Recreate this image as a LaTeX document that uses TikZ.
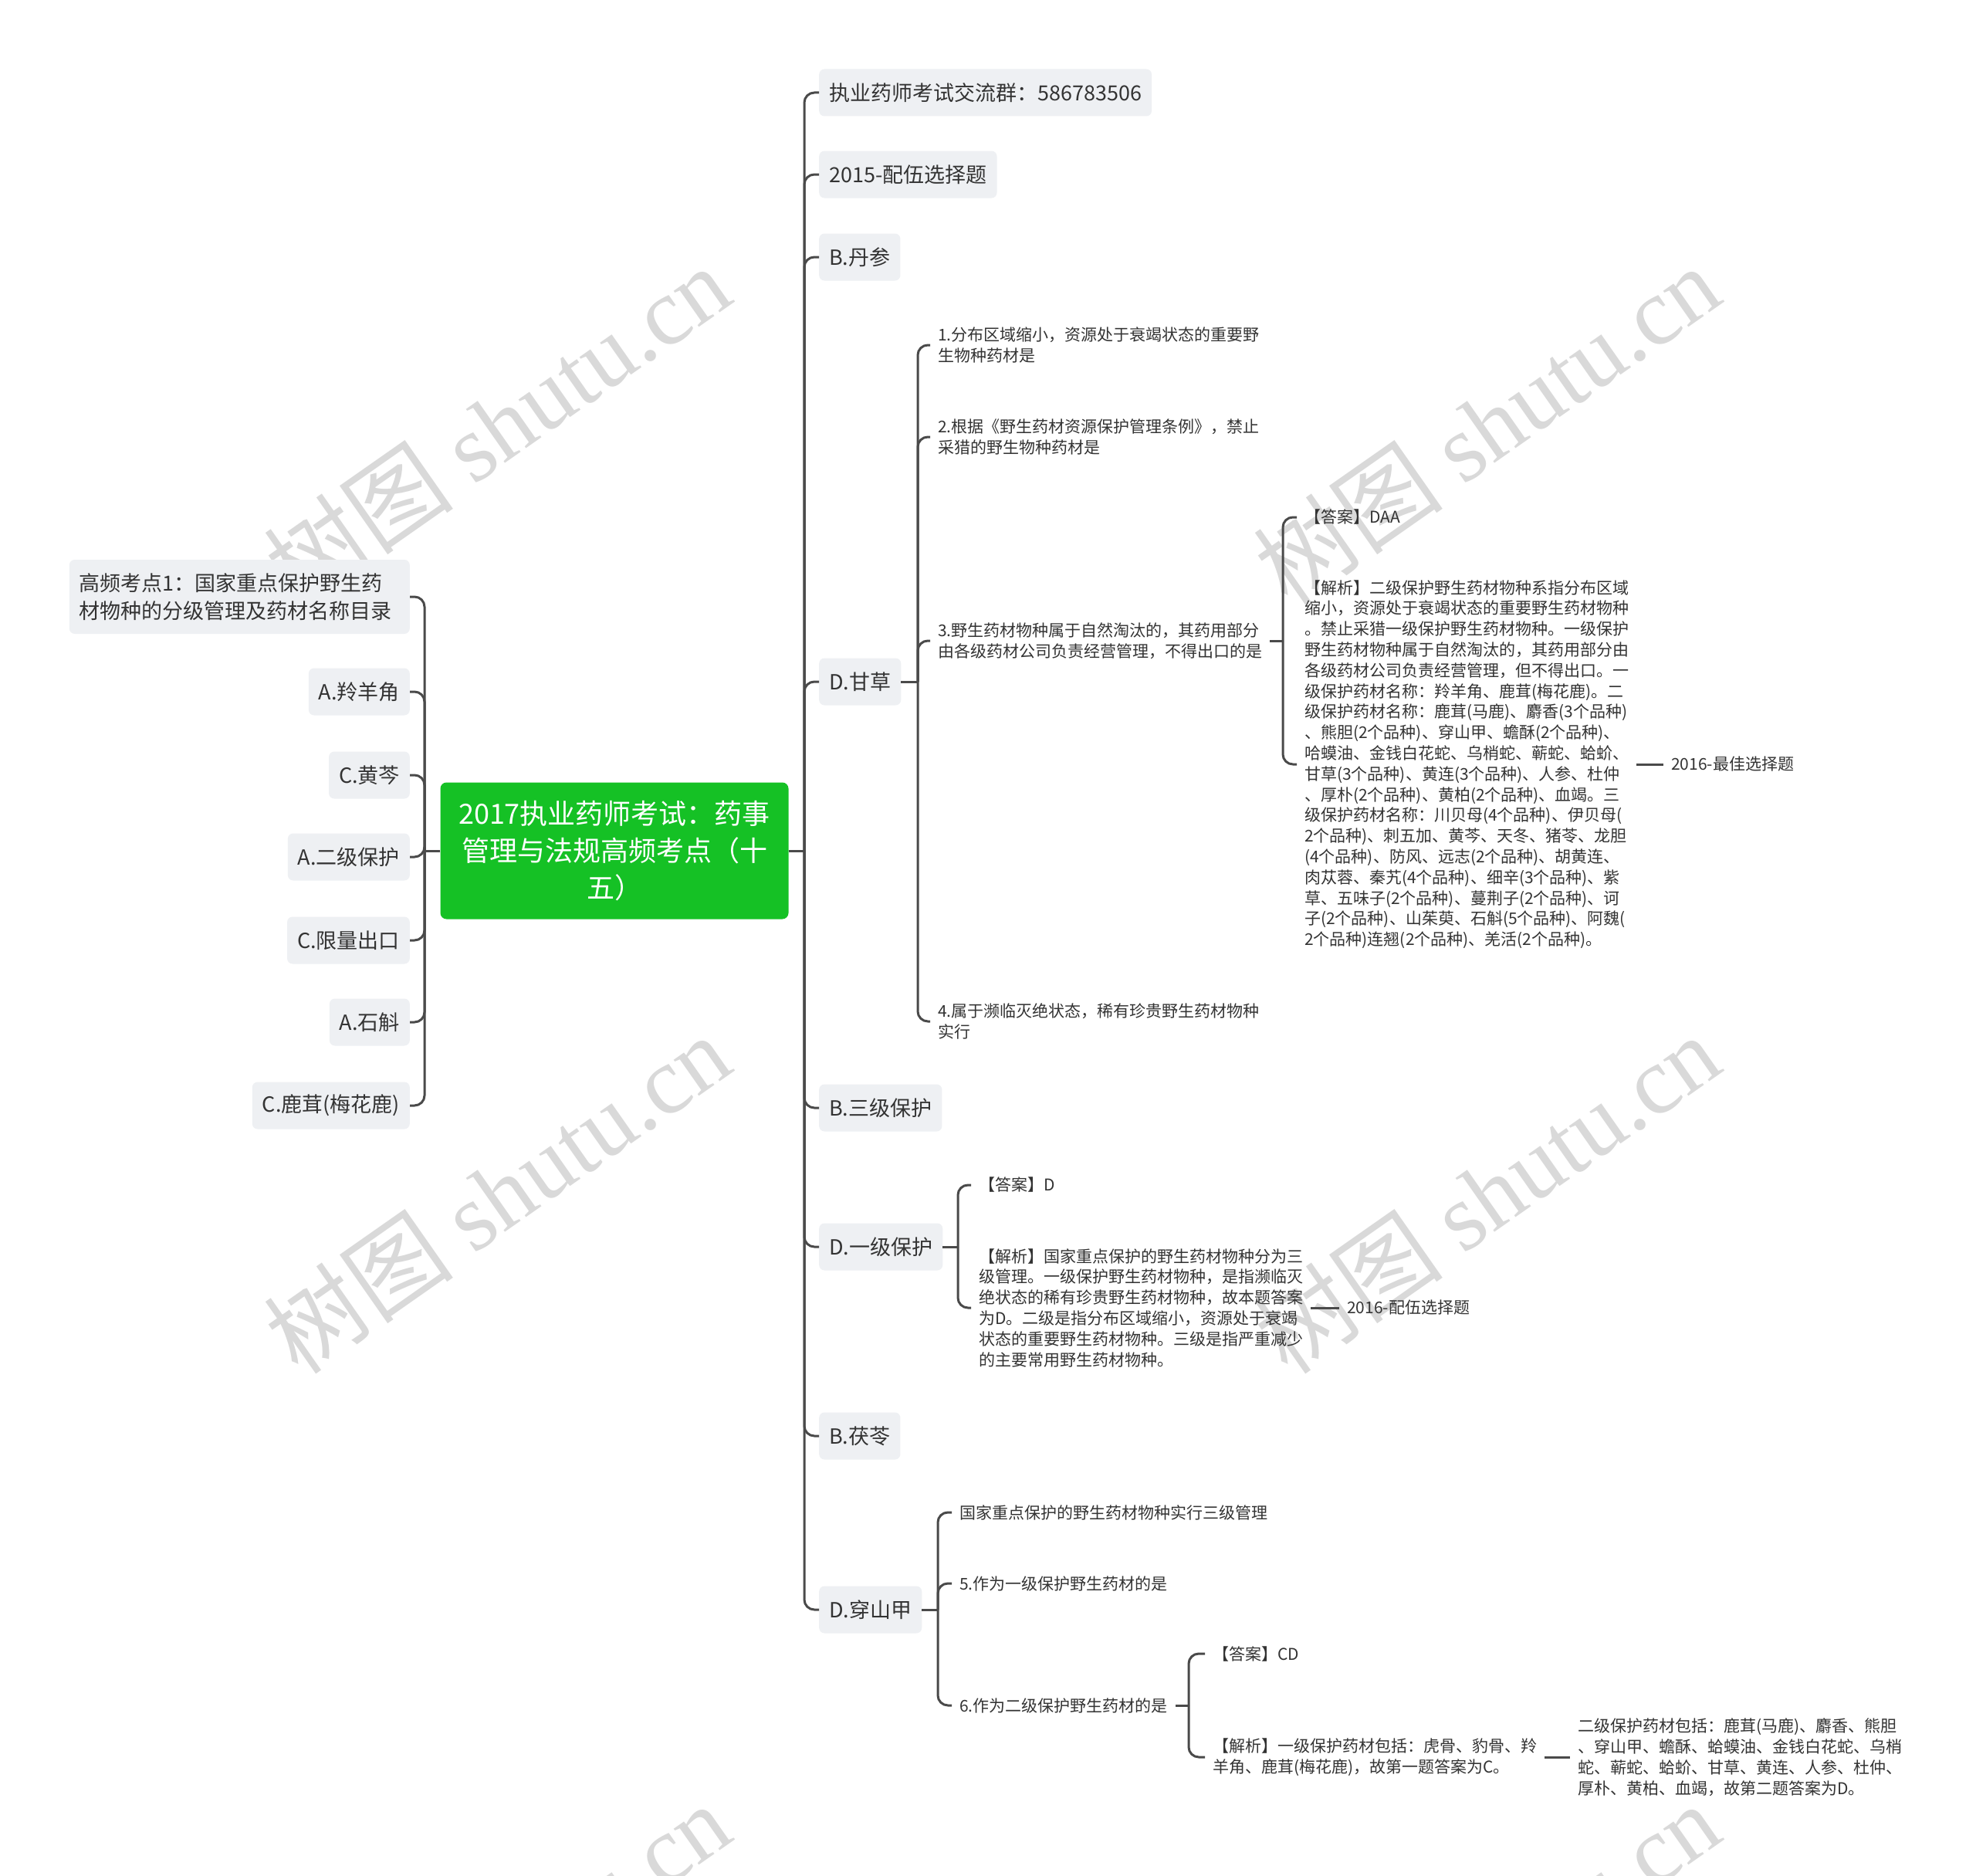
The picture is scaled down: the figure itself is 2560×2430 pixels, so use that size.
\documentclass[tikz,border=0pt]{standalone}
\usepackage{fontspec}
\setmainfont{Noto Sans CJK SC}
\newfontfamily\wmserif{Liberation Serif}
\usepackage{tikz}
\usetikzlibrary{positioning}
\definecolor{ink}{HTML}{333333}
\definecolor{linegray}{HTML}{4A4A4A}
\definecolor{boxfill}{HTML}{EEF0F3}
\definecolor{rootgreen}{HTML}{15C125}
\definecolor{wmgray}{HTML}{D9D9D9}
\newcommand\smalltxt{\fontsize{21}{26.8}\selectfont}
\newcommand\midtxt{\fontsize{27}{36}\selectfont}
\newcommand\roottxt{\fontsize{36}{48}\selectfont}
\tikzset{
  every node/.style={text=ink},
  central/.style={
    rectangle, rounded corners=8pt,
    fill=rootgreen, text=white, font=\roottxt,
    minimum width=451pt, minimum height=177pt,
    align=center
  },
  topic/.style={
    rectangle, rounded corners=7pt,
    fill=boxfill, font=\midtxt,
    inner xsep=13pt, inner ysep=0pt, minimum height=61pt
  },
  note/.style={
    font=\smalltxt, align=left,
    inner xsep=10pt, inner ysep=2pt, anchor=west
  },
  link/.style={draw=linegray, line width=3pt, rounded corners=13pt},
  stub/.style={draw=linegray, line width=3pt},
  wmark/.style={text=wmgray, rotate=35, font=\fontsize{124}{126}\selectfont},
}

\begin{document}
\begin{tikzpicture}[x=1pt, y=-1pt]
  \useasboundingbox (0,0) rectangle (2560,2430);
  \clip (0,0) rectangle (2560,2430);
  \fill[white] (0,0) rectangle (2560,2430);

  % watermarks
  \foreach \wx/\wy [count=\i] in {644/550, 1926/550, 644/1546, 1926/1546, 644/2542, 1926/2542}
    \node[wmark] (wm\i) at (\wx,\wy) {树图 {\wmserif shutu.cn}};

  \node[central] (root) at (796,1102) {2017执业药师考试：药事\\管理与法规高频考点（十\\五）};

  % left branch
  \node[topic, anchor=east, text width=415pt, align=left, minimum height=96pt] (kd) at (531,773) {高频考点1：国家重点保护野生药\\材物种的分级管理及药材名称目录};
  \node[topic, anchor=east] (lyj) at (531,896) {A.羚羊角};
  \node[topic, anchor=east] (hq) at (531,1004) {C.黄芩};
  \node[topic, anchor=east] (ejbh) at (531,1110) {A.二级保护};
  \node[topic, anchor=east] (xlck) at (531,1218) {C.限量出口};
  \node[topic, anchor=east] (shh) at (531,1324) {A.石斛};
  \node[topic, anchor=east] (lr) at (531,1432) {C.鹿茸(梅花鹿)};
  \coordinate (lt) at (550,1102);
  \draw[stub] (root.west) -- (lt);
  \foreach \n in {kd,lyj,hq,ejbh,xlck,shh,lr}
    \draw[link] (lt) |- (\n.east);

  % right branch
  \node[topic, anchor=west] (qun) at (1061,120) {执业药师考试交流群：586783506};
  \node[topic, anchor=west] (pw15) at (1061,226) {2015-配伍选择题};
  \node[topic, anchor=west] (ds) at (1061,333) {B.丹参};
  \node[topic, anchor=west] (gc) at (1061,883) {D.甘草};
  \node[topic, anchor=west] (sjbh) at (1061,1435) {B.三级保护};
  \node[topic, anchor=west] (yjbh) at (1061,1615) {D.一级保护};
  \node[topic, anchor=west] (fl) at (1061,1860) {B.茯苓};
  \node[topic, anchor=west] (csj) at (1061,2085) {D.穿山甲};
  \coordinate (rt) at (1042,1102);
  \draw[stub] (root.east) -- (rt);
  \foreach \n in {qun,pw15,ds,gc,sjbh,yjbh,fl,csj}
    \draw[link] (rt) |- (\n.west);

  % D.甘草
  \node[note] (q1) at (1205,447) {1.分布区域缩小，资源处于衰竭状态的重要野\\生物种药材是};
  \node[note] (q2) at (1205,566) {2.根据《野生药材资源保护管理条例》，禁止\\采猎的野生物种药材是};
  \node[note] (q3) at (1205,830) {3.野生药材物种属于自然淘汰的，其药用部分\\由各级药材公司负责经营管理，不得出口的是};
  \node[note] (q4) at (1205,1323) {4.属于濒临灭绝状态，稀有珍贵野生药材物种\\实行};
  \coordinate (gct) at (1189,883);
  \draw[stub] (gc.east) -- (gct);
  \foreach \n in {q1,q2,q3,q4}
    \draw[link] (gct) |- (\n.west);

  \node[note] (daa) at (1680,670) {【答案】DAA};
  \node[note] (jx1) at (1680,990) {【解析】二级保护野生药材物种系指分布区域\\缩小，资源处于衰竭状态的重要野生药材物种\\。禁止采猎一级保护野生药材物种。一级保护\\野生药材物种属于自然淘汰的，其药用部分由\\各级药材公司负责经营管理，但不得出口。一\\级保护药材名称：羚羊角、鹿茸(梅花鹿)。二\\级保护药材名称：鹿茸(马鹿)、麝香(3个品种)\\、熊胆(2个品种)、穿山甲、蟾酥(2个品种)、\\哈蟆油、金钱白花蛇、乌梢蛇、蕲蛇、蛤蚧、\\甘草(3个品种)、黄连(3个品种)、人参、杜仲\\、厚朴(2个品种)、黄柏(2个品种)、血竭。三\\级保护药材名称：川贝母(4个品种)、伊贝母(\\2个品种)、刺五加、黄芩、天冬、猪苓、龙胆\\(4个品种)、防风、远志(2个品种)、胡黄连、\\肉苁蓉、秦艽(4个品种)、细辛(3个品种)、紫\\草、五味子(2个品种)、蔓荆子(2个品种)、诃\\子(2个品种)、山茱萸、石斛(5个品种)、阿魏(\\2个品种)连翘(2个品种)、羌活(2个品种)。};
  \node[note] (zj) at (2155,990) {2016-最佳选择题};
  \coordinate (q3t) at (1662,830);
  \draw[stub] (q3.east) -- (q3t);
  \foreach \n in {daa,jx1}
    \draw[link] (q3t) |- (\n.west);
  \draw[stub] (jx1.east) -- (zj.west);

  % D.一级保护
  \node[note] (dad) at (1258,1535) {【答案】D};
  \node[note] (jx2) at (1258,1694) {【解析】国家重点保护的野生药材物种分为三\\级管理。一级保护野生药材物种，是指濒临灭\\绝状态的稀有珍贵野生药材物种，故本题答案\\为D。二级是指分布区域缩小，资源处于衰竭\\状态的重要野生药材物种。三级是指严重减少\\的主要常用野生药材物种。};
  \node[note] (pw16) at (1735,1694) {2016-配伍选择题};
  \coordinate (yjt) at (1241,1615);
  \draw[stub] (yjbh.east) -- (yjt);
  \foreach \n in {dad,jx2}
    \draw[link] (yjt) |- (\n.west);
  \draw[stub] (jx2.east) -- (pw16.west);

  % D.穿山甲
  \node[note] (c1) at (1233,1959) {国家重点保护的野生药材物种实行三级管理};
  \node[note] (q5) at (1233,2051) {5.作为一级保护野生药材的是};
  \node[note] (q6) at (1233,2209) {6.作为二级保护野生药材的是};
  \coordinate (csjt) at (1215,2085);
  \draw[stub] (csj.east) -- (csjt);
  \foreach \n in {c1,q5,q6}
    \draw[link] (csjt) |- (\n.west);

  \node[note] (dcd) at (1561,2142) {【答案】CD};
  \node[note] (jx3) at (1561,2276) {【解析】一级保护药材包括：虎骨、豹骨、羚\\羊角、鹿茸(梅花鹿)，故第一题答案为C。};
  \node[note] (jx3b) at (2034,2276) {二级保护药材包括：鹿茸(马鹿)、麝香、熊胆\\、穿山甲、蟾酥、蛤蟆油、金钱白花蛇、乌梢\\蛇、蕲蛇、蛤蚧、甘草、黄连、人参、杜仲、\\厚朴、黄柏、血竭，故第二题答案为D。};
  \coordinate (q6t) at (1540,2209);
  \draw[stub] (q6.east) -- (q6t);
  \foreach \n in {dcd,jx3}
    \draw[link] (q6t) |- (\n.west);
  \draw[stub] (jx3.east) -- (jx3b.west);
\end{tikzpicture}
\end{document}
